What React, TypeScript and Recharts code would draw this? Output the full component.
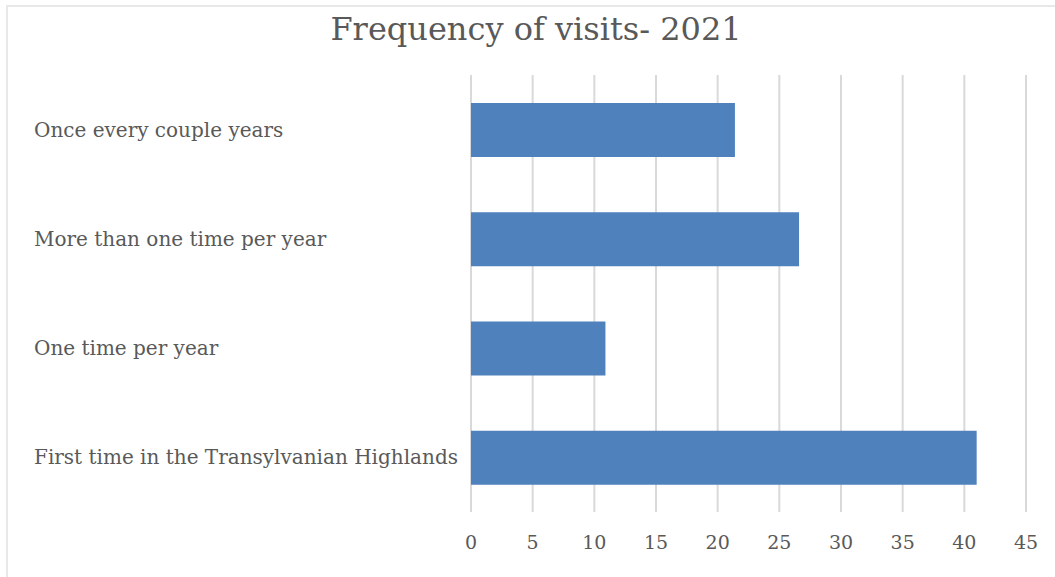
import React from 'react';
import { BarChart, Bar, XAxis, YAxis, CartesianGrid } from 'recharts';

const categories = [
  'Once every couple years',
  'More than one time per year',
  'One time per year',
  'First time in the Transylvanian Highlands',
];
const visits = [21.4, 26.6, 10.9, 41.0];
const xTicks = [0, 5, 10, 15, 20, 25, 30, 35, 40, 45];

const data = categories.map((name, i) => ({ name, value: visits[i] }));

const FONT = "'DejaVu Serif', 'Liberation Serif', serif";
const TEXT = '#595959';

const CategoryTick = (props: any) => {
  const { y, payload } = props;
  return (
    <text x={34} y={y} dy={7} textAnchor="start" fontFamily={FONT} fontSize={20} fill={TEXT}>
      {payload.value}
    </text>
  );
};

export default function App() {
  return (
    <div style={{ position: 'absolute', left: 0, top: 0, width: 1055, height: 577, background: '#fff' }}>
      <div
        style={{
          position: 'absolute',
          left: 6,
          top: 5,
          width: 1100,
          height: 600,
          borderTop: '2px solid #e8e8e8',
          borderLeft: '2px solid #e8e8e8',
        }}
      />
      <div
        style={{
          position: 'absolute',
          left: 0,
          top: 10,
          width: 1072,
          textAlign: 'center',
          fontFamily: FONT,
          fontSize: 32,
          color: TEXT,
        }}
      >
        Frequency of visits- 2021
      </div>
      <div style={{ position: 'absolute', left: 0, top: 0 }}>
        <BarChart
          width={1055}
          height={577}
          data={data}
          layout="vertical"
          margin={{ top: 75, right: 29, bottom: 0, left: 0 }}
        >
          <CartesianGrid horizontal={false} stroke="#d9d9d9" strokeWidth={2} />
          <XAxis
            type="number"
            domain={[0, 45]}
            ticks={xTicks}
            axisLine={false}
            tickLine={false}
            tickMargin={18}
            height={65}
            tick={{ fontFamily: FONT, fontSize: 19, fill: TEXT }}
          />
          <YAxis
            type="category"
            dataKey="name"
            width={471}
            axisLine={false}
            tickLine={false}
            tick={<CategoryTick />}
          />
          <Bar dataKey="value" fill="#4f81bd" barSize={54} isAnimationActive={false} />
        </BarChart>
      </div>
    </div>
  );
}
